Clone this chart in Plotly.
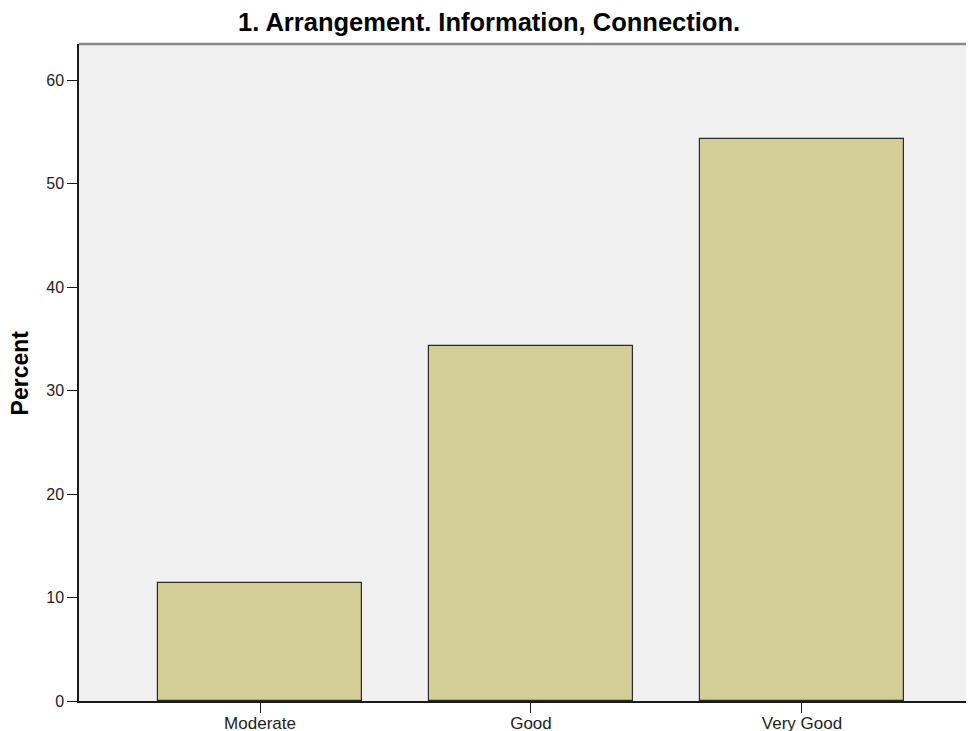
import plotly.graph_objects as go

categories = ["Moderate", "Good", "Very Good"]
percent = [11.43, 34.29, 54.29]
y_ticks = [0, 10, 20, 30, 40, 50, 60]

fig = go.Figure()
fig.add_trace(go.Bar(
    x=categories, y=percent, width=0.753,
    marker=dict(color="#D3CE98", line=dict(color="#2a2a2a", width=1.2)),
))

fig.update_layout(
    width=966, height=723,
    margin=dict(l=71, r=0, t=36, b=30, autoexpand=False),
    paper_bgcolor="white", plot_bgcolor="#F0F0F0",
    font=dict(family="Arial, Liberation Sans, sans-serif", color="#222", size=16),
    title=dict(text="<b>1. Arrangement. Information, Connection.</b>",
               x=0.498, xanchor="center", y=0.981, yanchor="middle",
               font=dict(size=25.5, color="black")),
    showlegend=False,
    bargap=0,
)
fig.update_xaxes(
    type="category", range=[-0.668, 2.635], automargin=False,
    showgrid=False, showline=True, linecolor="#1a1a1a", linewidth=1.5,
    ticks="outside", ticklen=10, tickwidth=1.2, tickcolor="#1a1a1a",
    tickfont=dict(size=17, color="#222"), ticklabelstandoff=-4,
)
fig.update_yaxes(
    range=[0, 63.5], tickvals=y_ticks, automargin=False,
    showgrid=False, zeroline=False, showline=True, linecolor="#1a1a1a", linewidth=1.5,
    ticks="outside", ticklen=10, tickwidth=1.2, tickcolor="#1a1a1a",
    tickfont=dict(size=16, color="#222"),
)
fig.add_annotation(text="<b>Percent</b>", textangle=-90, xref="paper", yref="paper",
                   x=-0.066, y=0.5, xanchor="center", yanchor="middle", showarrow=False,
                   font=dict(size=23, color="black"))
fig.add_shape(type="line", xref="paper", yref="paper", x0=0, x1=1, y0=1, y1=1,
              line=dict(color="#888888", width=2.5))

fig.write_html("out.html")
